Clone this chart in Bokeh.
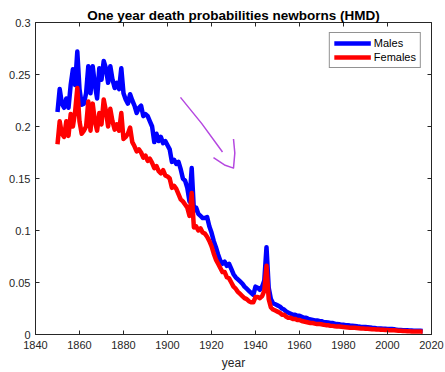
from bokeh.plotting import figure
from bokeh.models import (LinearAxis, FixedTicker, CustomJSTickFormatter,
                          Legend, LegendItem, ColumnDataSource)
from bokeh.embed import file_html
from bokeh.resources import INLINE

# One-year death probabilities of newborns, HMD (1850-2016)
years = list(range(1850, 2017))

males = [
    0.214, 0.236, 0.222, 0.218, 0.227, 0.218, 0.240, 0.255, 0.240, 0.272,  # 1850s
    0.236, 0.221, 0.222, 0.232, 0.258, 0.232, 0.258, 0.240, 0.227, 0.256,  # 1860s
    0.245, 0.263, 0.256, 0.242, 0.258, 0.245, 0.237, 0.242, 0.236, 0.256,  # 1870s
    0.232, 0.226, 0.222, 0.231, 0.225, 0.220, 0.213, 0.218, 0.220, 0.210,  # 1880s
    0.212, 0.210, 0.205, 0.200, 0.185, 0.193, 0.186, 0.190, 0.184, 0.186,  # 1890s
    0.182, 0.178, 0.166, 0.168, 0.164, 0.166, 0.159, 0.150, 0.148, 0.141,  # 1900s
    0.128, 0.160, 0.119, 0.122, 0.116, 0.114, 0.112, 0.112, 0.113, 0.104,  # 1910s
    0.098, 0.090, 0.084, 0.077, 0.071, 0.068, 0.070, 0.066, 0.068, 0.063,  # 1920s
    0.058, 0.055, 0.053, 0.051, 0.049, 0.046, 0.044, 0.042, 0.040, 0.038,  # 1930s
    0.046, 0.045, 0.043, 0.046, 0.052, 0.084, 0.045, 0.034, 0.030, 0.029,  # 1940s
    0.028, 0.027, 0.025, 0.024, 0.022, 0.021, 0.020, 0.019, 0.019, 0.018,  # 1950s
    0.018, 0.017, 0.016, 0.016, 0.015, 0.0145, 0.014, 0.0135, 0.0135, 0.013,  # 1960s
    0.0128, 0.012, 0.0118, 0.0115, 0.011, 0.011, 0.0105, 0.010, 0.0098, 0.0095,  # 1970s
    0.0093, 0.009, 0.0088, 0.0086, 0.0085, 0.0083, 0.008, 0.0076, 0.0073, 0.0072,  # 1980s
    0.0071, 0.0070, 0.0068, 0.0065, 0.0063, 0.0060, 0.0058, 0.0057, 0.0056, 0.0055,  # 1990s
    0.0054, 0.0053, 0.0052, 0.0050, 0.0047, 0.0044, 0.0044, 0.0041, 0.0040, 0.0040,  # 2000s
    0.0039, 0.0038, 0.0037, 0.0036, 0.0035, 0.0035, 0.0034,  # 2010-2016
]

females = [
    0.183, 0.205, 0.193, 0.190, 0.205, 0.191, 0.212, 0.200, 0.214, 0.237,  # 1850s
    0.205, 0.193, 0.196, 0.200, 0.224, 0.196, 0.222, 0.205, 0.196, 0.213,  # 1860s
    0.202, 0.226, 0.215, 0.200, 0.217, 0.205, 0.197, 0.202, 0.196, 0.213,  # 1870s
    0.188, 0.190, 0.193, 0.199, 0.185, 0.181, 0.176, 0.178, 0.175, 0.170,  # 1880s
    0.172, 0.167, 0.169, 0.165, 0.160, 0.162, 0.157, 0.155, 0.158, 0.153,  # 1890s
    0.152, 0.150, 0.141, 0.143, 0.140, 0.135, 0.130, 0.128, 0.125, 0.122,  # 1900s
    0.114, 0.136, 0.103, 0.104, 0.100, 0.102, 0.098, 0.097, 0.094, 0.090,  # 1910s
    0.085, 0.078, 0.072, 0.068, 0.064, 0.060, 0.060, 0.055, 0.054, 0.050,  # 1920s
    0.046, 0.044, 0.041, 0.039, 0.037, 0.035, 0.034, 0.032, 0.031, 0.031,  # 1930s
    0.036, 0.036, 0.035, 0.037, 0.042, 0.066, 0.034, 0.026, 0.024, 0.023,  # 1940s
    0.022, 0.021, 0.019, 0.019, 0.017, 0.016, 0.016, 0.015, 0.015, 0.014,  # 1950s
    0.014, 0.013, 0.0125, 0.012, 0.0115, 0.011, 0.011, 0.0105, 0.010, 0.010,  # 1960s
    0.0098, 0.0093, 0.0090, 0.0088, 0.0085, 0.0083, 0.008, 0.0078, 0.0076, 0.0074,  # 1970s
    0.0072, 0.007, 0.0068, 0.0066, 0.0065, 0.0064, 0.0062, 0.0060, 0.0058, 0.0057,  # 1980s
    0.0056, 0.0055, 0.0053, 0.0051, 0.0050, 0.0048, 0.0047, 0.0046, 0.0045, 0.0044,  # 1990s
    0.0043, 0.0042, 0.0041, 0.0040, 0.0038, 0.0036, 0.0035, 0.0034, 0.0033, 0.0032,  # 2000s
    0.0031, 0.0030, 0.0029, 0.0029, 0.0028, 0.0028, 0.0027,  # 2010-2016
]

x_ticks = [1840, 1860, 1880, 1900, 1920, 1940, 1960, 1980, 2000, 2020]
y_ticks = [0, 0.05, 0.1, 0.15, 0.2, 0.25, 0.3]

# hand-drawn purple arrow pointing down the declining trend
arrow_shaft_x = [1905.9, 1915.5, 1925.0]
arrow_shaft_y = [0.228, 0.203, 0.1755]
arrow_head_x = [1920.9, 1925.9, 1930.0, 1930.6, 1930.0]
arrow_head_y = [0.170, 0.163, 0.160, 0.1745, 0.188]

AX = "#262626"
FONT = "Liberation Sans"

p = figure(width=445, height=372, x_range=(1840, 2020), y_range=(0, 0.3),
           output_backend="svg", toolbar_location=None,
           min_border_left=35, min_border_right=14,
           min_border_top=22, min_border_bottom=38,
           background_fill_color="white", border_fill_color="white")

p.title.text = "One year death probabilities newborns (HMD)"
p.title.text_font = FONT
p.title.text_font_size = "13.5px"
p.title.text_font_style = "bold"
p.title.text_color = "black"
p.title.align = "center"
p.title.standoff = 0

p.grid.visible = False
p.outline_line_color = AX
p.outline_line_width = 1
p.outline_line_alpha = 1

for ax in (p.xaxis[0], p.yaxis[0]):
    ax.major_tick_in = 4
    ax.major_tick_out = 0
    ax.minor_tick_line_color = None
    ax.axis_line_color = AX
    ax.major_tick_line_color = AX
    ax.major_label_text_font = FONT
    ax.major_label_text_font_size = "11px"
    ax.major_label_text_color = AX

p.xaxis.ticker = FixedTicker(ticks=x_ticks)
p.yaxis.ticker = FixedTicker(ticks=y_ticks)
p.yaxis.formatter = CustomJSTickFormatter(code="return String(Math.round(tick*100)/100);")
p.xaxis.major_label_standoff = 6
p.yaxis.major_label_standoff = 5
p.xaxis.axis_label = "year"
p.xaxis.axis_label_text_font = FONT
p.xaxis.axis_label_text_font_size = "12px"
p.xaxis.axis_label_text_font_style = "normal"
p.xaxis.axis_label_text_color = AX
p.xaxis.axis_label_standoff = 4

# tick marks on the top and right edges of the box
blank = CustomJSTickFormatter(code="return '';")
top = LinearAxis(ticker=FixedTicker(ticks=x_ticks), formatter=blank,
                 major_tick_in=4, major_tick_out=0, minor_tick_line_color=None,
                 axis_line_color=None, major_tick_line_color=AX,
                 major_label_text_font_size="0px", major_label_standoff=0)
right = LinearAxis(ticker=FixedTicker(ticks=y_ticks), formatter=blank,
                   major_tick_in=4, major_tick_out=0, minor_tick_line_color=None,
                   axis_line_color=None, major_tick_line_color=AX,
                   major_label_text_font_size="0px", major_label_standoff=0)
p.add_layout(top, "above")
p.add_layout(right, "right")

src = ColumnDataSource(data=dict(year=years, males=males, females=females))
r_m = p.line("year", "males", source=src, line_color="#0000ff", line_width=4.5,
             line_join="round")
r_f = p.line("year", "females", source=src, line_color="#ff0000", line_width=4.5,
             line_join="round")

p.line(arrow_shaft_x, arrow_shaft_y, line_color="#b548e0", line_width=1.5)
p.line(arrow_head_x, arrow_head_y, line_color="#b548e0", line_width=1.5,
       line_join="round")

legend = Legend(items=[LegendItem(label="Males", renderers=[r_m]),
                       LegendItem(label="Females", renderers=[r_f])],
                location="top_right", margin=10, padding=4, spacing=2,
                glyph_width=37, glyph_height=12, label_height=12,
                label_standoff=3, label_text_font=FONT,
                label_text_font_size="11px", label_text_color="black",
                border_line_color=AX, border_line_width=1,
                background_fill_color="white", background_fill_alpha=1)
p.add_layout(legend)

open("out.html", "w").write(file_html(p, INLINE))
